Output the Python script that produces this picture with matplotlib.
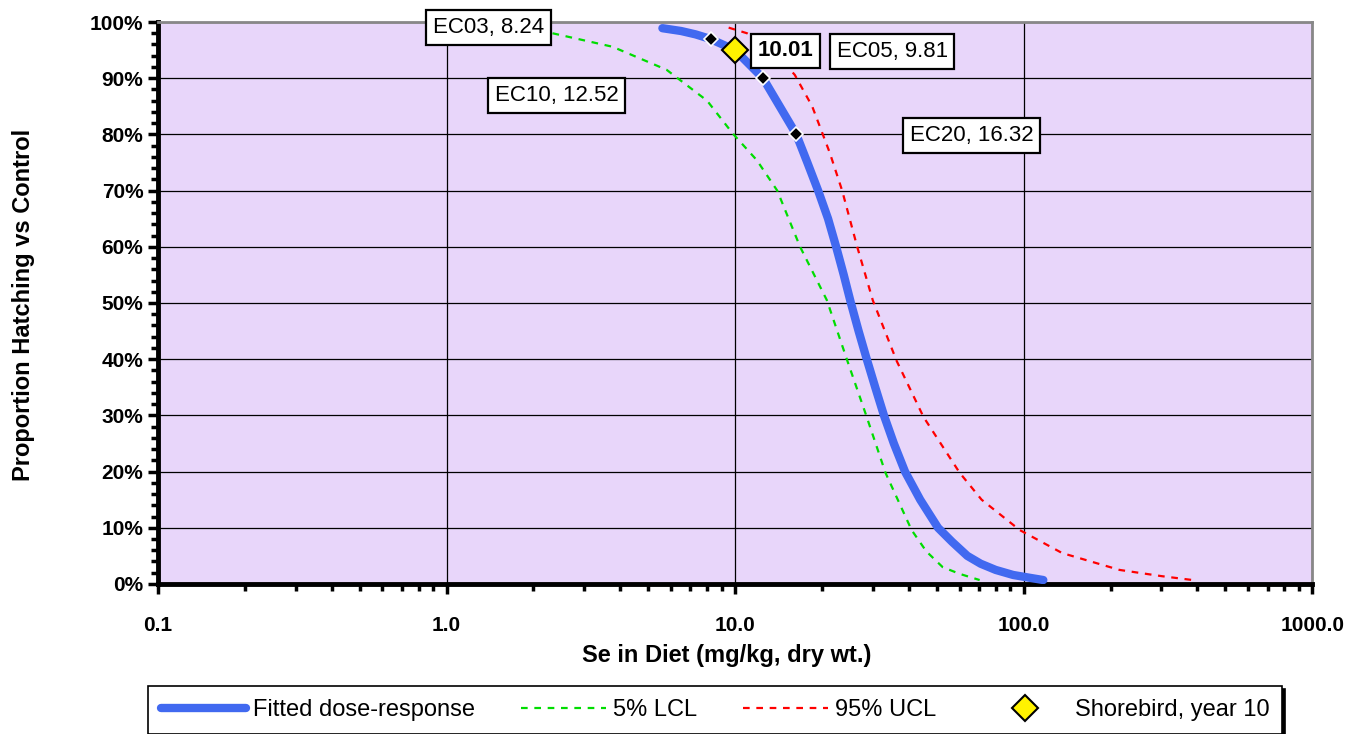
import matplotlib.pyplot as plt
from matplotlib.ticker import FixedLocator, MultipleLocator, FuncFormatter, LogLocator, NullFormatter

plt.rcParams['font.family'] = ['Liberation Sans', 'DejaVu Sans']

# fitted dose-response (Se mg/kg, proportion hatching)
fit_x = [5.6, 6.5, 7.3, 8.2, 10.0, 12.5, 16.3, 17.8, 19.4, 21.0, 22.4, 23.8, 25.2, 26.8,
         28.6, 30.6, 32.8, 35.5, 38.8, 43.8, 50.5, 56.5, 63.8, 71.0, 80.0, 92.0, 105.0, 117.0]
fit_y = [0.989, 0.984, 0.978, 0.970, 0.950, 0.900, 0.800, 0.750, 0.700, 0.650, 0.600, 0.550,
         0.500, 0.450, 0.400, 0.350, 0.300, 0.250, 0.200, 0.150, 0.100, 0.075, 0.050, 0.036, 0.025, 0.016, 0.011, 0.007]

# 5% LCL
lcl_x = [2.33, 3.76, 5.79, 8.0, 9.8, 11.9, 14.0, 16.8, 20.8, 24.5, 28.6, 33.2, 40.9, 46.0, 52.4, 60.0, 70.4]
lcl_y = [0.980, 0.956, 0.915, 0.860, 0.802, 0.754, 0.700, 0.600, 0.505, 0.397, 0.297, 0.198, 0.096, 0.058, 0.030, 0.018, 0.007]

# 95% UCL
ucl_x = [9.5, 11.0, 13.5, 16.1, 18.5, 21.3, 23.5, 26.5, 30.0, 36.3, 45.0, 60.0, 71.5, 96.9, 136.0, 215.0, 300.0, 385.0]
ucl_y = [0.990, 0.980, 0.950, 0.906, 0.850, 0.767, 0.700, 0.600, 0.505, 0.397, 0.297, 0.198, 0.150, 0.096, 0.055, 0.025, 0.014, 0.007]

# EC points on fitted curve
ec_names = ['EC03', 'EC05', 'EC10', 'EC20']
ec_x = [8.24, 9.81, 12.52, 16.32]
ec_y = [0.97, 0.95, 0.90, 0.80]

# shorebird, year 10
bird_x = [10.01]
bird_y = [0.95]

fig = plt.figure(figsize=(13.5, 7.34), dpi=100)
ax = fig.add_axes([0.117, 0.2044, 0.855, 0.7656])
ax.set_facecolor('#E8D6FA')

ax.plot(fit_x, fit_y, color='#4169F0', lw=6, solid_capstyle='round', label='Fitted dose-response', zorder=4)
ax.plot(lcl_x, lcl_y, color='#00DD00', lw=1.6, ls=(0, (3, 3)), label='5% LCL', zorder=3)
ax.plot(ucl_x, ucl_y, color='#FF0000', lw=1.6, ls=(0, (3, 3)), label='95% UCL', zorder=3)
ax.plot(ec_x, ec_y, 'D', color='black', mec='white', mew=1.2, ms=7.5, zorder=5)
ax.plot(bird_x, bird_y, 'D', color='#FFF200', mec='black', mew=1.5, ms=13, ls='none',
        label='Shorebird, year 10', zorder=6)

# label boxes, centred where the reference has them
box = dict(boxstyle='square,pad=0.3', fc='white', ec='black', lw=1.6)
ax.text(1.40, 0.990, 'EC03, ' + f'{ec_x[0]:.2f}', fontsize=16, ha='center', va='center', bbox=box, zorder=7, clip_on=False)
ax.text(2.41, 0.869, 'EC10, ' + f'{ec_x[2]:.2f}', fontsize=16, ha='center', va='center', bbox=box, zorder=7)
ax.text(15.0, 0.949, f'{bird_x[0]:.2f}', fontsize=16, fontweight='bold', ha='center', va='center', bbox=box, zorder=7)
ax.text(35.0, 0.9475, 'EC05, ' + f'{ec_x[1]:.2f}', fontsize=16, ha='center', va='center', bbox=box, zorder=7)
ax.text(66.0, 0.798, 'EC20, ' + f'{ec_x[3]:.2f}', fontsize=16, ha='center', va='center', bbox=box, zorder=7)

ax.set_xscale('log')
ax.set_xlim(0.1, 1000)
ax.set_ylim(0, 1)
ax.xaxis.set_major_locator(FixedLocator([0.1, 1, 10, 100, 1000]))
ax.xaxis.set_major_formatter(FuncFormatter(lambda v, p: f'{v:.1f}'))
ax.xaxis.set_minor_locator(LogLocator(base=10, subs=range(2, 10)))
ax.xaxis.set_minor_formatter(NullFormatter())
ax.yaxis.set_major_locator(MultipleLocator(0.1))
ax.yaxis.set_minor_locator(MultipleLocator(0.02))
ax.yaxis.set_major_formatter(FuncFormatter(lambda v, p: f'{v*100:.0f}%'))

ax.grid(True, which='major', color='black', lw=0.9)
ax.set_axisbelow(True)
ax.tick_params(which='both', direction='out', width=2.5, labelsize=15)
ax.tick_params(which='major', length=7)
ax.tick_params(which='minor', length=5)
ax.tick_params(axis='x', pad=16)
for lab in ax.get_xticklabels() + ax.get_yticklabels():
    lab.set_fontweight('bold')

for s in ['left', 'bottom']:
    ax.spines[s].set_linewidth(3.5)
    ax.spines[s].set_color('black')
for s in ['top', 'right']:
    ax.spines[s].set_linewidth(2)
    ax.spines[s].set_color('#888888')

ax.set_xlabel('Se in Diet (mg/kg, dry wt.)', fontsize=17, fontweight='bold')
ax.set_ylabel('Proportion Hatching vs Control', fontsize=17, fontweight='bold')
ax.xaxis.set_label_coords(0.493, -0.106)
ax.yaxis.set_label_coords(-0.1066, 0.497)

leg = fig.legend(loc='upper left', bbox_to_anchor=(148 / 1350, 1 - 686 / 734), borderaxespad=0,
                 ncol=4, fontsize=17, frameon=True, fancybox=False,
                 shadow={'color': 'black', 'alpha': 1},
                 handlelength=3.6, handletextpad=0.3, columnspacing=1.95, borderpad=0.55)
leg.get_frame().set_edgecolor('black')
leg.get_frame().set_linewidth(1.2)
leg.get_frame().set_alpha(1)

fig.savefig('out.png', dpi=100)
